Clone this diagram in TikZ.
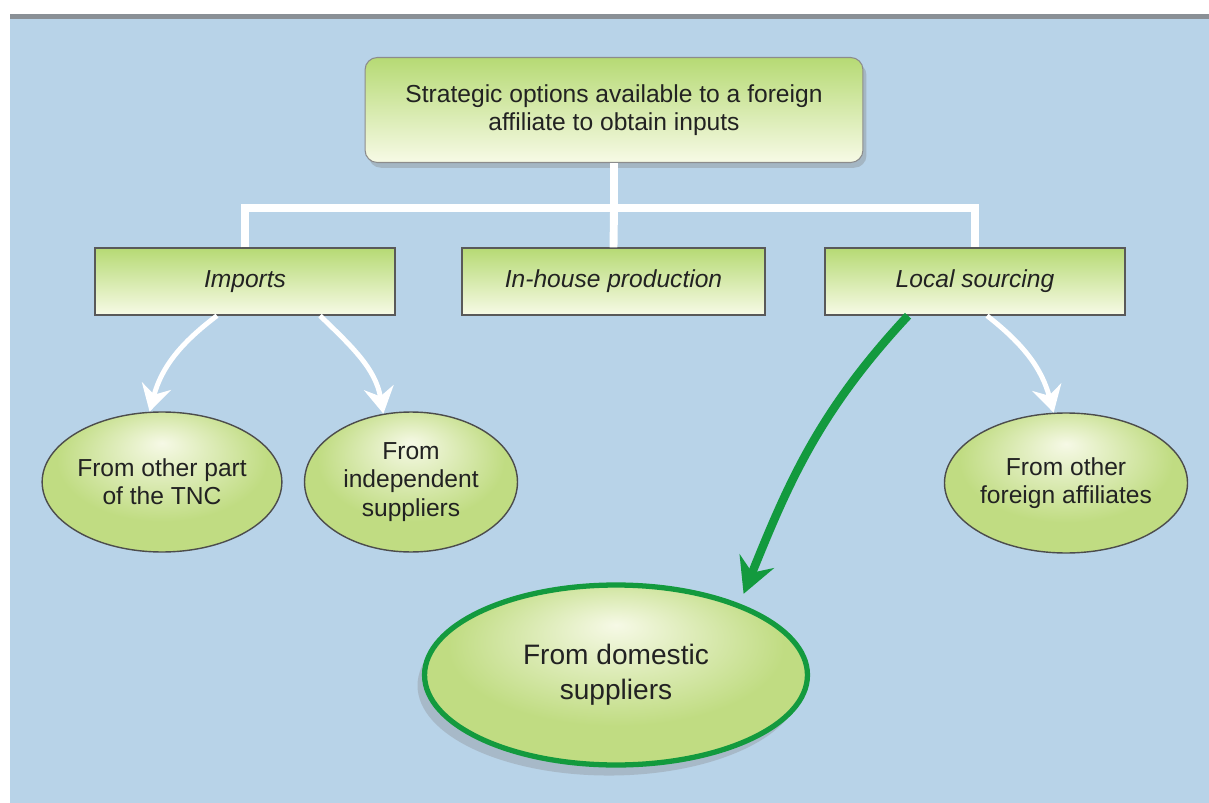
\documentclass[tikz,border=0pt]{standalone}
\usepackage{fontspec}
\setmainfont{Liberation Sans}
\usetikzlibrary{calc, shadows, arrows.meta, shapes.geometric}
\definecolor{bgblue}{HTML}{B8D3E8}
\definecolor{bargray}{HTML}{8A9096}
\definecolor{boxgreen}{HTML}{B6DA74}
\definecolor{boxpale}{HTML}{F7FAE6}
\definecolor{leafgreen}{HTML}{C0DC82}
\definecolor{leafpale}{HTML}{F6F9E6}
\definecolor{arrowgreen}{HTML}{139A3E}
\definecolor{textgray}{HTML}{222222}
\pgfdeclareradialshading{leafshade}{\pgfpoint{0bp}{14bp}}{color(0bp)=(leafpale); color(22bp)=(leafgreen); color(50bp)=(leafgreen)}
\tikzset{
topbox/.style={draw=black!45, line width=0.6pt, rounded corners=7pt, top color=boxgreen, bottom color=boxpale, minimum width=9.96cm, minimum height=2.1cm, inner sep=0pt, align=center, text=textgray, font=\fontsize{14}{16}\selectfont, drop shadow={opacity=0.35, shadow xshift=2pt, shadow yshift=-3pt}},
optionbox/.style={draw=black!65, line width=0.8pt, top color=boxgreen, bottom color=boxpale, minimum width=6cm, minimum height=1.34cm, inner sep=0pt, text=textgray, font=\fontsize{14}{16}\selectfont\itshape},
leaf/.style={ellipse, draw=black!70, line width=0.8pt, shading=leafshade, minimum width=4.26cm, minimum height=2.8cm, inner sep=0pt, align=center, text=textgray, font=\fontsize{14}{16}\selectfont},
mainleaf/.style={ellipse, draw=arrowgreen, line width=3pt, shading=leafshade, minimum width=7.66cm, minimum height=3.6cm, inner sep=0pt, align=center, text=textgray, font=\fontsize{16}{20}\selectfont, drop shadow={opacity=0.3, shadow xshift=-4pt, shadow yshift=-6pt}},
tree/.style={draw=white, line width=4.5pt},
branch/.style={draw=white, line width=2.8pt, -{Stealth[length=15pt, width=17pt, inset=5pt]}},
mainbranch/.style={draw=arrowgreen, line width=4.8pt, -{Stealth[length=20pt, width=21pt, inset=7pt]}, shorten >=6pt},
}
\begin{document}
\begin{tikzpicture}[x=0.02cm, y=-0.02cm]
    \useasboundingbox (0,0) rectangle (1209,803);
    % background
    \fill[bgblue] (10,18) rectangle (1209,803);
    \fill[bargray] (10,14) rectangle (1209,19);
    % nodes
    \node[topbox] (top) at (614,110) {Strategic options available to a foreign\\affiliate to obtain inputs};
    \node[optionbox] (imp) at (245,281.5) {Imports};
    \node[optionbox, minimum width=6.06cm] (inh) at (613.5,281.5) {In-house production};
    \node[optionbox] (loc) at (975,281.5) {Local sourcing};
    \node[leaf] (tnc) at (162,482) {From other part\\of the TNC};
    \node[leaf] (ind) at (411,482) {From\\independent\\suppliers};
    \node[leaf] (aff) at (1066,483) {From other\\foreign affiliates};
    \node[mainleaf] (dom) at (616,675) {From domestic\\suppliers};
    % white tree
    \coordinate (bus) at ($(top.south)+(0,45)$);
    \draw[tree] (top.south) -- (bus);
    \draw[tree] (imp.north) |- (bus) -| (loc.north);
    \draw[tree] (bus) -- (inh.north);
    % branches
    \draw[branch] ($(imp.south)+(-28,0)$) to[out=-143, in=75] (tnc.100);
    \draw[branch] ($(imp.south)+(75,0)$) to[out=-44, in=100] (ind.112);
    \draw[branch] ($(loc.south)+(12,0)$) to[out=-38, in=105] (aff.100);
    \draw[mainbranch] ($(loc.south)+(-67,0)$) to[out=-133, in=68] (dom.30);
\end{tikzpicture}
\end{document}
